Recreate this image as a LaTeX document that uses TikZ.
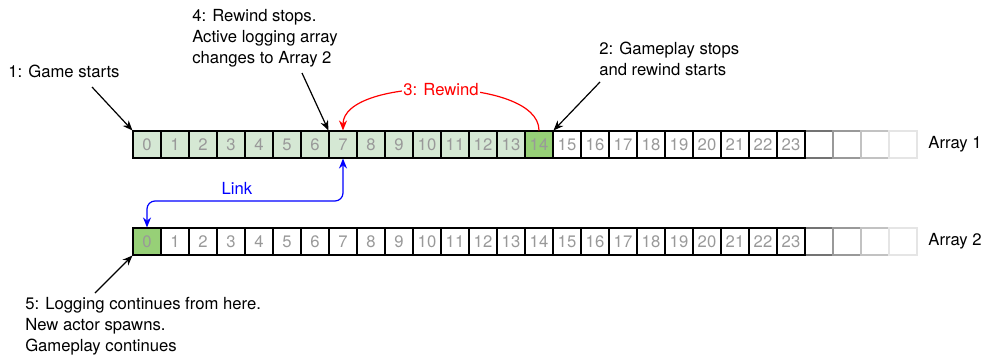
\documentclass[tikz,border=0pt]{standalone}
\usepackage{fontspec}
\setmainfont{TeX Gyre Heros}
\usetikzlibrary{arrows.meta, positioning}
\definecolor{loggedfill}{HTML}{D5E8D4}
\definecolor{markfill}{HTML}{97D077}
\definecolor{indexgray}{HTML}{999999}

\begin{document}
\begin{tikzpicture}[
    x=0.75pt, y=-0.75pt,
    every node/.style={font=\fontsize{12.5}{15.75}\selectfont},
    cell/.style={draw, line width=0.8pt, minimum width=21pt, minimum height=20.25pt, inner sep=0pt, text=indexgray},
    note/.style={align=left, inner sep=0pt},
    pointer/.style={-{Stealth[length=7.5pt, width=6pt]}, line width=0.9pt},
    rewind/.style={pointer, red},
    link/.style={{Stealth[length=7.5pt, width=6pt]}-{Stealth[length=7.5pt, width=6pt]}, line width=0.9pt, blue, rounded corners=6pt}
]
    \useasboundingbox (0,0) rectangle (984,356);

    % unused slots first, so the numbered cells keep their dark borders
    \foreach \i/\shade in {24/55, 25/40, 26/24, 27/10} {
        \node[cell, draw=black!\shade] (a\i) at (147+28*\i, 144.5) {};
        \node[cell, draw=black!\shade] (b\i) at (147+28*\i, 241.5) {};
    }

    % array 1
    \foreach \i in {0,...,13} {
        \node[cell, fill=loggedfill] (a\i) at (147+28*\i, 144.5) {\i};
    }
    \node[cell, fill=markfill] (a14) at (539, 144.5) {14};
    \foreach \i in {15,...,23} {
        \node[cell] (a\i) at (147+28*\i, 144.5) {\i};
    }

    % array 2
    \node[cell, fill=markfill] (b0) at (147, 241.5) {0};
    \foreach \i in {1,...,23} {
        \node[cell] (b\i) at (147+28*\i, 241.5) {\i};
    }

    \node[note, right=8pt of a27] (arr1) {Array 1};
    \node[note, right=8pt of b27] (arr2) {Array 2};

    % step notes
    \node[note, anchor=base west] (start) at (8,78) {1: Game starts};
    \node[note, anchor=north west] (pause) at (599,42) {2: Gameplay stops\\and rewind starts};
    \node[note, anchor=north west] (stop) at (192,9) {4: Rewind stops.\\Active logging array\\changes to Array 2};
    \node[note, anchor=north west] (resume) at (25,297) {5: Logging continues from here.\\New actor spawns.\\Gameplay continues};

    \coordinate (t1) at (92,87);
    \coordinate (t2) at (600,82);
    \coordinate (t4) at (302,73);
    \coordinate (t5) at (95,293);
    \coordinate (bend) at (237,201);

    \draw[pointer] (t1) -- (a0.north west);
    \draw[pointer] (t2) -- (a14.north east);
    \draw[pointer] (t4) -- (a7.north west);
    \draw[pointer] (t5) -- (b0.south west);

    \draw[rewind] (a14.north) .. controls (539,76) and (343,76) .. node[midway, fill=white, inner sep=1pt, text=red] {3: Rewind} (a7.north);

    \draw[link] (a7.south) |- (bend) node[above=4.5pt, inner sep=0pt] {Link} -| (b0.north);
\end{tikzpicture}
\end{document}
